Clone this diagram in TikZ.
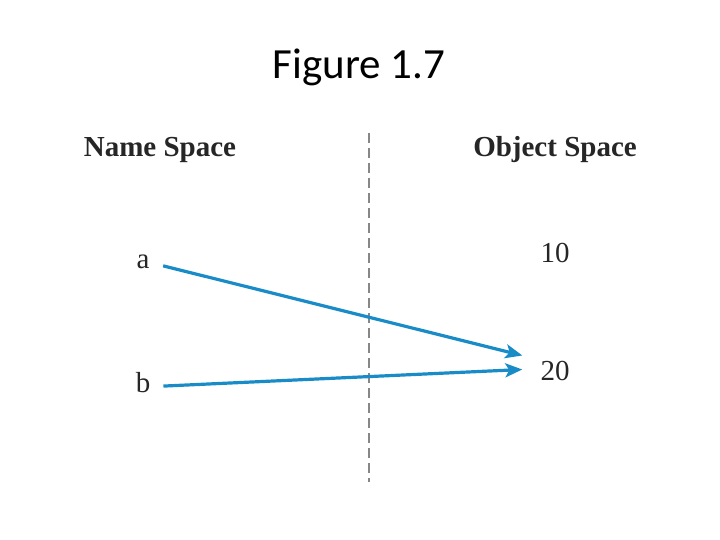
\documentclass[tikz,border=0pt]{standalone}
\usepackage{fontspec}
\setmainfont{Liberation Serif}
\newfontfamily\titlefont{Carlito}
\usetikzlibrary{arrows.meta}
\definecolor{arrowblue}{RGB}{25,140,200}
\definecolor{divgray}{RGB}{135,135,135}
\begin{document}
\begin{tikzpicture}[x=1pt,y=-1pt,
  lbl/.style={inner sep=0pt,anchor=base,font=\fontsize{29}{34}\selectfont,text=black!85},
  hdr/.style={lbl,font=\fontsize{29}{34}\selectfont\bfseries},
  link/.style={draw=arrowblue,line width=3.2pt,-{Stealth[length=17pt,width=14pt,inset=4pt]}},
  divider/.style={draw=divgray,line width=1.8pt,dash pattern=on 10pt off 5pt}]
\useasboundingbox (0,0) rectangle (720,540);
\node[inner sep=0pt,anchor=base,font=\titlefont\fontsize{43}{50}\selectfont] (title) at (359,79) {Figure 1.7};
\node[hdr] (ns) at (160,157) {Name Space};
\node[hdr] (os) at (555,157) {Object Space};
\node[lbl] (a) at (143,268) {a};
\node[lbl] (b) at (143,392) {b};
\node[lbl] (n10) at (555,262) {10};
\node[lbl] (n20) at (555,380) {20};
\coordinate (dtop) at (369,133);
\coordinate (dbot) at (369,482);
\draw[divider] (dtop) -- (dbot);
\draw[link] ([xshift=13.5pt,yshift=-4.5pt]a.east) -- ([xshift=-18pt,yshift=15pt]n20.west);
\draw[link] ([xshift=13pt,yshift=-4pt]b.east) -- ([xshift=-18pt,yshift=1pt]n20.west);
\end{tikzpicture}
\end{document}
